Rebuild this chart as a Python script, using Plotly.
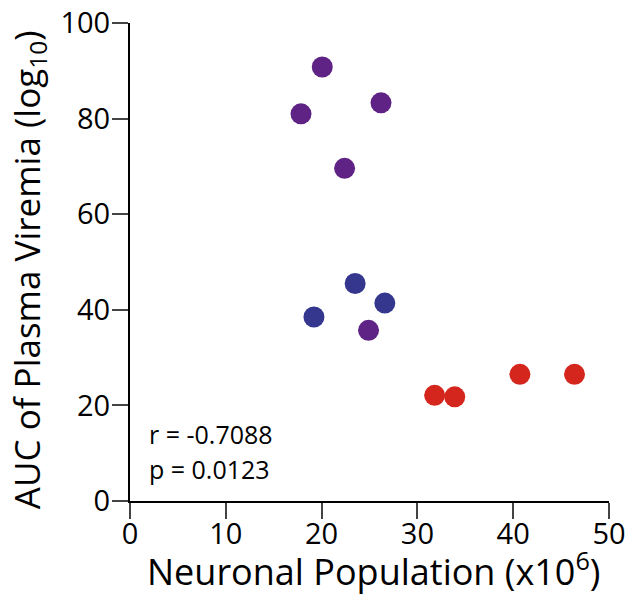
import plotly.graph_objects as go

purple_x = [17.85, 20.07, 26.2, 22.4, 24.9]
purple_y = [81.0, 90.8, 83.3, 69.6, 35.7]
blue_x = [19.2, 23.5, 26.6]
blue_y = [38.5, 45.5, 41.4]
red_x = [31.8, 33.9, 40.7, 46.4]
red_y = [22.1, 21.8, 26.5, 26.5]
x_ticks = [0, 10, 20, 30, 40, 50]
y_ticks = [0, 20, 40, 60, 80, 100]
stats_text = ["r = -0.7088", "p = 0.0123"]
x_title = "Neuronal Population (x10<sup>6</sup>)"
y_title = "AUC of Plasma Viremia (log<sub>10</sub>)"

FONT = "Open Sans"
fig = go.Figure()
for xs, ys, col in [(purple_x, purple_y, "#5e2384"), (blue_x, blue_y, "#35378f"), (red_x, red_y, "#d5261d")]:
    fig.add_trace(go.Scatter(x=xs, y=ys, mode="markers",
                             marker=dict(size=21, color=col, line=dict(width=0)),
                             showlegend=False, cliponaxis=False))

fig.update_layout(
    width=629, height=594,
    margin=dict(l=130, r=20, t=23, b=93, autoexpand=False),
    paper_bgcolor="white", plot_bgcolor="white",
    font=dict(family=FONT, color="black"),
    xaxis=dict(range=[0, 50], tickvals=x_ticks, ticks="outside", ticklen=16, tickwidth=2,
               showline=True, linewidth=2, linecolor="black", showgrid=False, zeroline=False,
               automargin=False, ticklabeloverflow="allow", ticklabelstandoff=-10,
               tickfont=dict(size=29, family=FONT)),
    yaxis=dict(range=[0, 100], tickvals=y_ticks, ticks="outside", ticklen=16, tickwidth=2,
               showline=True, linewidth=2, linecolor="black", showgrid=False, zeroline=False,
               automargin=False, ticklabeloverflow="allow", ticklabelstandoff=-4,
               tickfont=dict(size=29, family=FONT)),
)
fig.add_annotation(xref="paper", yref="paper", x=0.509, y=0, yshift=-68, text=x_title,
                   showarrow=False, xanchor="center", yanchor="middle", font=dict(size=36, family=FONT))
fig.add_annotation(xref="paper", yref="paper", x=0, y=0.483, xshift=-102, text=y_title, textangle=-90,
                   showarrow=False, xanchor="center", yanchor="middle", font=dict(size=35, family=FONT))
fig.add_annotation(x=1.8, y=14.0, text=stats_text[0], showarrow=False, xanchor="left", yanchor="middle",
                   font=dict(size=25, family=FONT))
fig.add_annotation(x=1.8, y=6.8, text=stats_text[1], showarrow=False, xanchor="left", yanchor="middle",
                   font=dict(size=25, family=FONT))
fig.write_html("out.html", config={"displayModeBar": False},
               post_script="document.body.style.margin='0';document.body.style.overflow='hidden';")
